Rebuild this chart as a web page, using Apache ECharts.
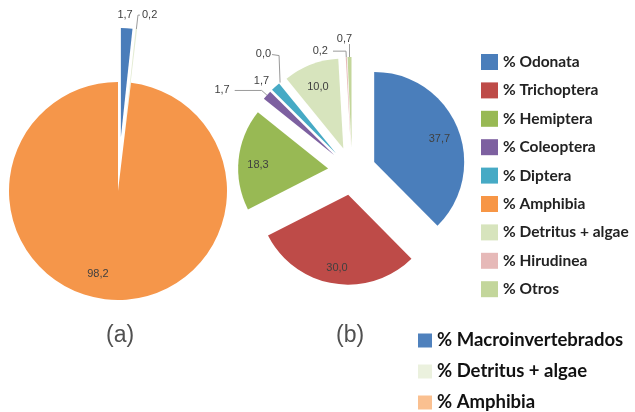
<!DOCTYPE html>
<html>
<head>
<meta charset="utf-8">
<script src="https://cdn.jsdelivr.net/npm/echarts@6/dist/echarts.min.js"></script>
<style>
  html, body { margin: 0; padding: 0; background: #fff; }
  #chart { width: 635px; height: 412px; }
</style>
</head>
<body>
<div id="chart"></div>
<script>
// Panel (a): share of diet by broad group
const catsA = ['% Macroinvertebrados', '% Detritus + algae', '% Amphibia'];
const valsA = [1.7, 0.2, 98.2];

// Panel (b): share of diet by taxon
const catsB = ['% Odonata', '% Trichoptera', '% Hemiptera', '% Coleoptera', '% Diptera',
               '% Amphibia', '% Detritus + algae', '% Hirudinea', '% Otros'];
const valsB = [37.7, 30.0, 18.3, 1.7, 1.7, 0.0, 10.0, 0.2, 0.7];

const panelTitles = ['(a)', '(b)'];

// styling
const sliceColorsA = ['#4a7dba', '#e4ecd4', '#f5964a'];
const legendColorsA = ['#4f81bd', '#ebf1de', '#fac090'];
const colorsB = ['#4a7ebb', '#be4b48', '#98b954', '#7d60a0', '#46aac5',
                 '#f79646', '#d7e4bd', '#e6b9b8', '#c3d69b'];
const insideB = ['% Odonata', '% Trichoptera', '% Hemiptera', '% Detritus + algae'];
const explodedA = ['% Macroinvertebrados', '% Detritus + algae'];

// leader settings for the thin slices: [length, length2, distance, show line]
const leadersA = { 0: [13, 0, 0, false], 1: [14, 2, 2, true] };
const leadersB = {
  3: [7, 27, 5, true],
  4: [8, 0, 1, false],
  5: [30, 0, 2, true],
  7: [6, 13, 5, true],
  8: [18, 0, 1, true]
};
// callouts that rise vertically from the slice tip: label shift and elbow/end offsets
const risersB = {
  5: { dx: 12, dy: -5, bend: [-1, -27], end: [-8, -28] },
  8: { dx: 4, dy: 0, bend: [0, -13], end: [0, -13] }
};

const fmt = v => v.toFixed(1).replace('.', ',');
const labelFont = { fontFamily: 'Liberation Sans, Arial, sans-serif', fontSize: 11, color: '#404040' };
const lineStyle = { color: '#9a9a9a', width: 1 };

const centerA = [118, 191], rA = 109;
const centerB = [352, 171], rB = 90;

function pieBase(center, radius, offset) {
  return {
    type: 'pie', center: center, radius: [0, radius],
    startAngle: 90, clockwise: true, avoidLabelOverlap: false,
    selectedMode: 'multiple', selectedOffset: offset,
    emphasis: { disabled: true },
    animation: false
  };
}

function itemLabel(leaders, i, showIt) {
  const l = leaders[i];
  if (!showIt || !l) return { label: { show: false }, labelLine: { show: false } };
  return {
    label: { show: true, distanceToLabelLine: l[2] },
    labelLine: { show: l[3], length: l[0], length2: l[1] }
  };
}

// visible slices; the thin ones carry outside callouts
const seriesA = Object.assign(pieBase(centerA, rA, 54), {
  name: 'a',
  data: catsA.map((n, i) => Object.assign({
    name: n, value: valsA[i], selected: explodedA.includes(n),
    itemStyle: { color: sliceColorsA[i] }
  }, itemLabel(leadersA, i, true))),
  label: Object.assign({ position: 'outside', formatter: p => fmt(p.value) }, labelFont),
  labelLine: { lineStyle: lineStyle },
  labelLayout: p => (p.dataIndex === 0 ? { dx: -10 } : {})
});

const seriesB = Object.assign(pieBase(centerB, rB, 24), {
  name: 'b',
  data: catsB.map((n, i) => Object.assign({
    name: n, value: valsB[i], selected: true,
    itemStyle: { color: colorsB[i] }
  }, itemLabel(leadersB, i, !insideB.includes(n)))),
  label: Object.assign({ position: 'outside', formatter: p => fmt(p.value) }, labelFont),
  labelLine: { lineStyle: lineStyle },
  labelLayout: p => {
    const r = risersB[p.dataIndex];
    const o = p.labelLinePoints && p.labelLinePoints[0];
    if (!r || !o) return {};
    return {
      dx: r.dx, dy: r.dy,
      labelLinePoints: [o, [o[0] + r.bend[0], o[1] + r.bend[1]], [o[0] + r.end[0], o[1] + r.end[1]]]
    };
  }
});

// transparent twins at 1.5x radius so the inside labels sit at ~3/4 of the real radius
function labelTwin(base, cats, vals, show, selected, shift) {
  return Object.assign(base, {
    silent: true, z: 5,
    itemStyle: { color: 'rgba(0,0,0,0)', borderWidth: 0 },
    data: cats.map((n, i) => ({
      name: n, value: vals[i], selected: selected(n),
      label: { show: show(n) }
    })),
    label: Object.assign({ position: 'inside', formatter: p => fmt(p.value) }, labelFont),
    labelLine: { show: false },
    labelLayout: () => shift
  });
}
const twinA = labelTwin(pieBase(centerA, rA * 1.5, 54), catsA, valsA,
  n => n === '% Amphibia', n => explodedA.includes(n), { dx: -15, dy: -2 });
const twinB = labelTwin(pieBase(centerB, rB * 1.5, 24), catsB, valsB,
  n => insideB.includes(n), () => true, { dy: 4 });

const titleStyle = { fontSize: 23, fontWeight: 'normal', color: '#505050', fontFamily: 'Liberation Sans, Arial, sans-serif' };

const chart = echarts.init(document.getElementById('chart'), null, { renderer: 'canvas' });
chart.setOption({
  backgroundColor: '#ffffff',
  animation: false,
  tooltip: { show: false },
  title: [
    { text: panelTitles[0], left: 106, top: 324, padding: 0, textStyle: titleStyle },
    { text: panelTitles[1], left: 336, top: 324, padding: 0, textStyle: titleStyle }
  ],
  legend: [
    {
      orient: 'vertical', left: 481, top: 54, padding: 0, height: 270,
      icon: 'rect', itemWidth: 17, itemHeight: 16, itemGap: 12.4,
      selectedMode: false,
      textStyle: { fontFamily: 'Lato, sans-serif', fontWeight: 'bold', fontSize: 15.5, lineHeight: 16, color: '#222' },
      data: catsB.map((n, i) => ({ name: n, itemStyle: { color: colorsB[i] } }))
    },
    {
      orient: 'vertical', left: 418, top: 331, padding: 0, height: 100,
      icon: 'rect', itemWidth: 14, itemHeight: 14, itemGap: 12,
      selectedMode: false,
      textStyle: { fontFamily: 'Lato, sans-serif', fontWeight: 'bold', fontSize: 18.5, lineHeight: 14, color: '#111' },
      data: catsA.map((n, i) => ({ name: n, itemStyle: { color: legendColorsA[i] } }))
    }
  ],
  series: [seriesA, seriesB, twinA, twinB]
});
</script>
</body>
</html>
